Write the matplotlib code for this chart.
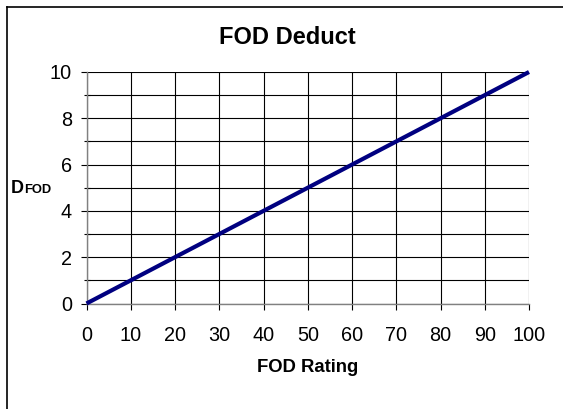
import numpy as np
import matplotlib.pyplot as plt
from matplotlib.ticker import MultipleLocator
from matplotlib.lines import Line2D

plt.rcParams['font.family'] = ['Liberation Sans', 'DejaVu Sans']

# data
fod_rating = [0, 100]
d_fod = [0, 10]
x_ticks = [0, 10, 20, 30, 40, 50, 60, 70, 80, 90, 100]
y_ticks = [0, 2, 4, 6, 8, 10]

W, H = 563, 409
fig = plt.figure(figsize=(W/100, H/100), dpi=100)
ax = fig.add_axes([86.5/W, 1-303.5/H, (529-86.5)/W, (303.5-72)/H])

ax.plot(fod_rating, d_fod, color='#000080', lw=3.0, solid_capstyle='butt', zorder=3, clip_on=False)

ax.set_xlim(0, 100)
ax.set_ylim(0, 10)
ax.set_xticks(x_ticks)
ax.set_yticks(y_ticks)
ax.yaxis.set_minor_locator(MultipleLocator(1))
ax.grid(which='both', color='black', lw=0.8)
ax.set_axisbelow(True)
for s in ['top', 'right']:
    ax.spines[s].set_visible(False)
for s in ['left', 'bottom']:
    ax.spines[s].set_color('#808080')
    ax.spines[s].set_linewidth(1.0)
ax.tick_params(axis='both', which='major', labelsize=14.3, length=4.5, width=0.8, color='black')
ax.tick_params(axis='x', pad=11.5)
ax.tick_params(axis='y', pad=6)
ax.tick_params(axis='y', which='minor', length=5, width=0.8, color='black', direction='inout')

fig.text(287/W, 1-38/H, 'FOD Deduct', ha='center', va='center', fontsize=17, fontweight='bold')
fig.text(308/W, 1-372/H, 'FOD Rating', ha='center', va='baseline', fontsize=13.3, fontweight='bold')
fig.text(10.5/W, 1-193/H, 'D', ha='left', va='baseline', fontsize=13, fontweight='bold')
fig.text(24/W, 1-193/H, 'FOD', ha='left', va='baseline', fontsize=9.3, fontweight='bold')

# outer chart border (left and top edges visible)
fig.add_artist(Line2D([7/W, 7/W], [0, 1-7/H], transform=fig.transFigure, color='black', lw=1.2))
fig.add_artist(Line2D([7/W, 1], [1-7/H, 1-7/H], transform=fig.transFigure, color='black', lw=1.2))

fig.savefig('out.png', dpi=100)
